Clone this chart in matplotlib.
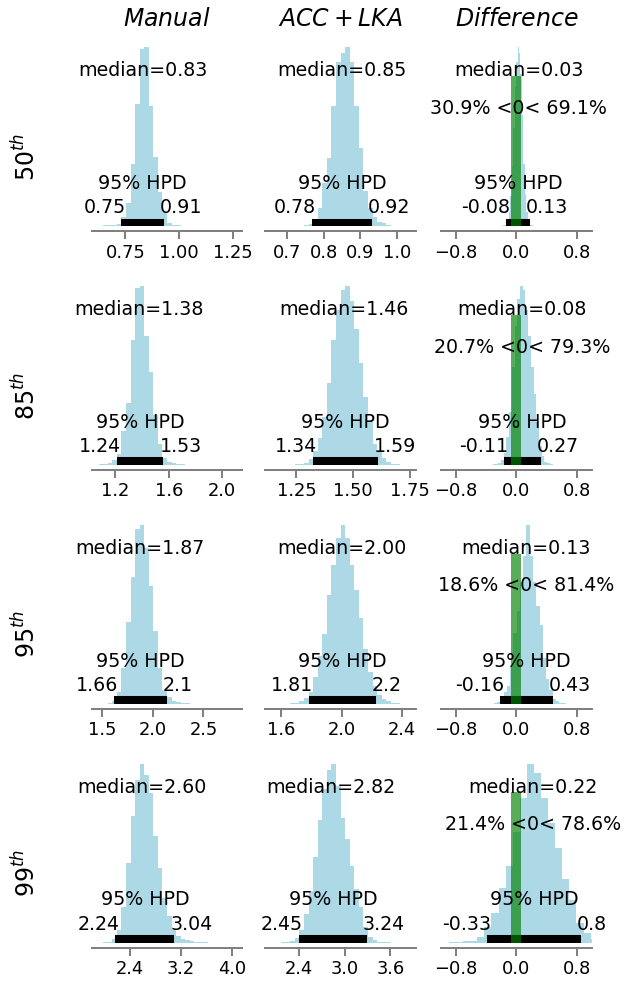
import numpy as np
import matplotlib
matplotlib.use("Agg")
import matplotlib.pyplot as plt

groups = ["$Manual$", "$ACC+LKA$", "$Difference$"]
percentiles = ["$50^{th}$", "$85^{th}$", "$95^{th}$", "$99^{th}$"]

# Histograms: first bin edge, bin width and 30 relative bin heights per panel
manual_lo = [0.6248, 1.074, 1.464, 1.9135]
manual_bw = [0.0213, 0.0342, 0.0451, 0.0715]
manual_counts = [
    [0.3, 0.5, 0.8, 1.0, 1.5, 5, 13, 35, 68.5, 99.4, 100, 67, 38.5, 19, 8, 2, 1, 0.6, 0.4, 0.3,
     0.2, 0.1, 0.1, 0, 0.1, 0, 0.1, 0, 0, 0.2],
    [0.4, 0.8, 1.5, 3, 6, 19, 35, 70, 99, 100, 72, 52, 28, 12, 4, 2, 1, 0.5, 0.4, 0.3,
     0.2, 0.1, 0.1, 0.1, 0.1, 0.1, 0.2, 0.3, 0.1, 0.2],
    [0.1, 0.3, 0.8, 2, 7, 20, 46, 71, 98, 100, 87, 66, 41, 20, 8, 4, 2, 1, 0.6, 0.4,
     0.3, 0.2, 0.1, 0.3, 0.1, 0, 0, 0, 0, 0.1],
    [0.1, 0.3, 0.8, 2, 7, 20, 45, 71, 91, 100, 94, 84, 60, 42, 25, 15, 7, 4, 2.5, 1.5,
     1, 0.6, 0.4, 0.3, 0.2, 0.1, 0.2, 0.1, 0.2, 0.1],
]
acc_lo = [0.6587, 1.143, 1.5385, 2.047]
acc_bw = [0.0125, 0.0201, 0.0303, 0.05995]
acc_counts = [
    [0.1, 0.1, 0.2, 0.2, 0.3, 0.3, 0.4, 0.5, 1.5, 4, 10, 24, 38, 67, 92, 97, 100, 92, 67, 44,
     20, 10, 5, 2.6, 1.7, 0.8, 0.3, 0.2, 0.2, 0.1],
    [0.2, 0.1, 0.1, 0.2, 0.3, 0.5, 0.8, 1.5, 3.3, 8, 15, 27, 46, 70, 87, 98, 100, 92, 76, 57,
     38, 25, 12, 8, 4, 2, 0.8, 0.5, 0.3, 0.2],
    [0.1, 0.1, 0.2, 0.3, 0.5, 0.8, 1.5, 3.4, 7, 15, 27, 39, 61, 78, 93, 100, 93, 78, 64, 48,
     31, 18, 10, 5, 3, 1.5, 0.7, 0.4, 0.2, 0.1],
    [0.1, 0.2, 0.4, 0.6, 1.3, 2.6, 7, 16, 29, 48, 69, 86, 97, 100, 88, 70, 58, 43, 30, 20,
     9, 3.5, 1.5, 0.8, 0.5, 0.3, 0.2, 0.1, 0.1, 0.1],
]
diff_lo = [-0.25, -0.60, -0.56, -1.458]
diff_bw = [0.019, 0.036, 0.0434, 0.094]
diff_counts = [
    [0.05, 0.1, 0.2, 0.3, 0.6, 1, 2, 4, 8, 17, 33, 55, 78, 92, 100, 97, 85, 62, 35, 18,
     8, 4, 2, 1, 0.5, 0.3, 0.2, 0.1, 0.1, 0.05],
    [0.05, 0.05, 0.1, 0.1, 0.1, 0.2, 0.2, 0.3, 0.5, 0.8, 1.5, 3, 7, 16, 30, 55, 78, 93, 100, 98,
     87, 72, 55, 40, 24, 11, 5, 2, 1, 0.5],
    [0.05, 0.1, 0.1, 0.2, 0.2, 0.3, 0.5, 1, 3.5, 7, 10, 22, 40, 52, 68, 83, 100, 83, 68, 55,
     44, 26, 14, 8, 3, 1.5, 0.7, 0.4, 0.2, 0.1],
    [0.05, 0.05, 0.05, 0.1, 0.1, 0.2, 0.3, 0.4, 0.9, 1.2, 3.5, 9, 16.5, 31, 43, 62, 81, 100, 95, 81,
     67, 53, 36, 24, 11, 5.4, 2, 1, 0.4, 0.2],
]

medians = [[0.83, 0.85, 0.03], [1.38, 1.46, 0.08], [1.87, 2.00, 0.13], [2.60, 2.82, 0.22]]
hpd_low = [[0.75, 0.78, -0.08], [1.24, 1.34, -0.11], [1.66, 1.81, -0.16], [2.24, 2.45, -0.33]]
hpd_high = [[0.91, 0.92, 0.13], [1.53, 1.59, 0.27], [2.1, 2.2, 0.43], [3.04, 3.24, 0.8]]
below_ref = [30.9, 20.7, 18.6, 21.4]
above_ref = [69.1, 79.3, 81.4, 78.6]
ref_val = 0

xticks = [
    [[0.75, 1.00, 1.25], [0.7, 0.8, 0.9, 1.0], [-0.8, 0.0, 0.8]],
    [[1.2, 1.6, 2.0], [1.25, 1.50, 1.75], [-0.8, 0.0, 0.8]],
    [[1.5, 2.0, 2.5], [1.6, 2.0, 2.4], [-0.8, 0.0, 0.8]],
    [[2.4, 3.2, 4.0], [2.4, 3.0, 3.6], [-0.8, 0.0, 0.8]],
]

los = [manual_lo, acc_lo, diff_lo]
bws = [manual_bw, acc_bw, diff_bw]
cnts = [manual_counts, acc_counts, diff_counts]

W, H = 641, 986
fig = plt.figure(figsize=(W / 100, H / 100), dpi=100)
lefts = [91.7, 265.2, 441.0]
aw, ah = 150.7, 187.8
TS = 13.7

for r in range(4):
    for c in range(3):
        bottom_px = 226.3 + 238.9 * r
        ax = fig.add_axes([lefts[c] / W, 1 - bottom_px / H, aw / W, ah / H])
        counts = np.asarray(cnts[c][r], float)
        edges = los[c][r] + bws[c][r] * np.arange(len(counts) + 1)
        ax.stairs(counts, edges, fill=True, color="lightblue", linewidth=0)
        top = 1.05 * counts.max()
        ax.set_ylim(0, top)
        if c == 2:
            ax.set_xlim(-1, 1)

        m = medians[r][c]
        lo_v, hi_v = hpd_low[r][c], hpd_high[r][c]
        ax.plot([lo_v, hi_v], [0.02 * top, 0.02 * top], color="k", lw=5.8,
                solid_capstyle="projecting")
        ax.text(lo_v, 0.07 * top, str(lo_v), ha="right", fontsize=TS)
        ax.text(hi_v, 0.07 * top, str(hi_v), ha="left", fontsize=TS)
        ax.text((lo_v + hi_v) / 2, 0.2 * top, "95% HPD", ha="center", fontsize=TS)
        ax.text(m, 0.8 * top, f"median={m:.2f}", ha="center", fontsize=TS)
        if c == 2:
            ax.axvline(ref_val, ymin=0, ymax=0.775, color="g", lw=7.2, alpha=0.65)
            ax.text(m, 0.6 * top, f"{below_ref[r]:.1f}% <{ref_val:g}< {above_ref[r]:.1f}%",
                    ha="center", fontsize=TS)

        for s in ["top", "right", "left"]:
            ax.spines[s].set_visible(False)
        ax.spines["bottom"].set_color("0.5")
        ax.spines["bottom"].set_linewidth(1.45)
        ax.spines["bottom"].set_position(("outward", 3.4))
        ax.set_yticks([])
        ax.set_xticks(xticks[r][c])
        ax.tick_params(axis="x", direction="out", length=5.5, width=1.45,
                       color="0.5", labelsize=12.9)
        if c != 2:
            ax.autoscale(enable=True, axis="x")
        if r == 0:
            ax.set_title(groups[c], fontsize=17, pad=9)
        if c == 0:
            ax.set_ylabel(percentiles[r], fontsize=17)
            ax.yaxis.set_label_coords(-0.34, 0.371)

fig.savefig("out.png", dpi=100)
